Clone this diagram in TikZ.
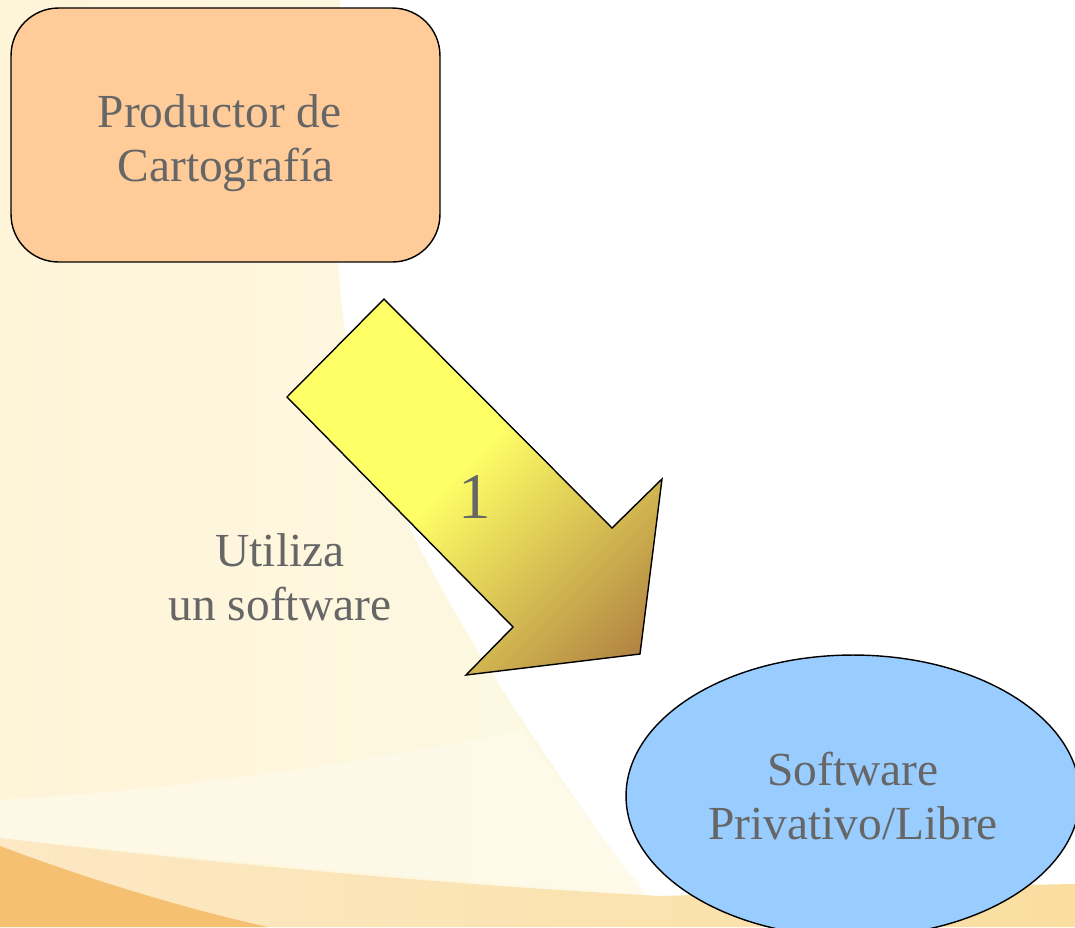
\documentclass[tikz,border=0pt]{standalone}
\usepackage{fontspec}
\setmainfont{Liberation Serif}
\usepackage{tikz}
\usetikzlibrary{calc}
\usetikzlibrary{shapes.geometric}
\definecolor{creamleft}{RGB}{254,244,216}
\definecolor{creamright}{RGB}{253,249,228}
\definecolor{bandlight}{RGB}{254,251,236}
\definecolor{peach}{RGB}{252,232,196}
\definecolor{deeporange}{RGB}{246,192,114}
\definecolor{sandorange}{RGB}{250,222,160}
\definecolor{boxorange}{RGB}{255,204,153}
\definecolor{ellblue}{RGB}{153,204,255}
\definecolor{arrowyellow}{RGB}{255,255,102}
\definecolor{arrowbrown}{RGB}{176,130,66}
\definecolor{labelgray}{RGB}{102,102,102}
\tikzset{
    labeltext/.style={text=labelgray, font=\fontsize{27}{30.5}\selectfont, align=center},
    outline/.style={draw=black, line width=0.8pt}
}
\newcommand{\arrowoutline}{(384,299) -- (287,397) -- (513,627) -- (466,675) -- (640,654) -- (662,479) -- (612,528) -- cycle}

\begin{document}
\begin{tikzpicture}[x=0.02cm, y=-0.02cm]
    \useasboundingbox (0,0) rectangle (1075,927);
    \clip (0,0) rectangle (1075,927);
    %background
    \fill[white] (0,0) rectangle (1075,927);
    \shade[left color=creamleft, right color=creamright] (0,0) -- (340,0) -- (338,250) .. controls (342,470) and (470,650) .. (665,927) -- (0,927) -- cycle;
    \fill[bandlight, opacity=0.7] (0,800) .. controls (180,790) and (380,760) .. (522,730) -- (647,895) .. controls (450,880) and (200,860) .. (0,838) -- cycle;
    \shade[left color=peach, right color=sandorange] (0,838) .. controls (200,862) and (450,885) .. (660,896) .. controls (800,892) and (950,886) .. (1075,884) -- (1075,927) -- (0,927) -- cycle;
    \fill[deeporange] (0,846) .. controls (90,880) and (190,910) .. (268,927) -- (0,927) -- cycle;
    %nodes
    \node[outline, fill=boxorange, rounded corners=0.95cm, minimum width=8.58cm, minimum height=5.08cm,
        label={[labeltext, yshift=-4.5pt]center:Productor de\makebox[0.25em]{}\\ Cartografía}] (productor) at (225.5,135) {};
    \node[outline, fill=ellblue, ellipse, minimum width=9.08cm, minimum height=5.64cm, labeltext] (software) at (853,796) {Software\\Privativo/Libre};
    %arrow
    \begin{scope}
    \clip \arrowoutline;
    \fill[arrowyellow] (0,0) rectangle (1075,927);
    \begin{scope}[shift={(460,466)}, rotate=-45]
    \foreach \i in {0,...,52} {
        \pgfmathsetmacro{\mix}{100-\i*100/52}
        \fill[arrowyellow!\mix!arrowbrown] (\i*5,-250) rectangle ({\i*5+5.6},250);}
    \end{scope}
    \end{scope}
    \draw[outline, line join=miter] \arrowoutline;
    \node[labeltext, font=\fontsize{37}{40}\selectfont] (paso) at (475,497) {1};
    \node[labeltext] (utiliza) at (280,577) {Utiliza\\un software};
\end{tikzpicture}
\end{document}
